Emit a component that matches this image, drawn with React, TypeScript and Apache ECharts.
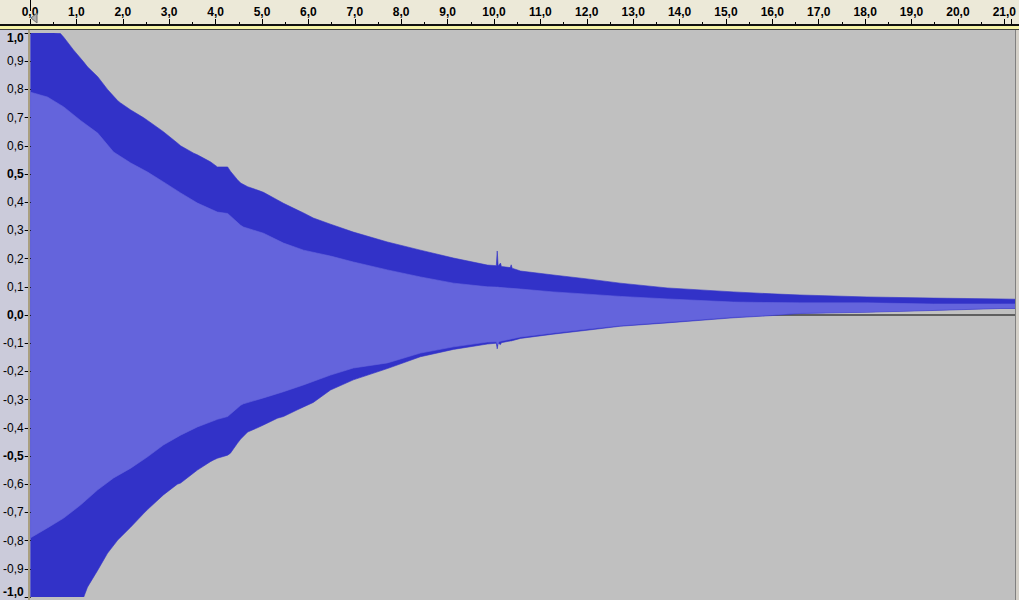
import React, { useEffect, useRef } from "react";
import * as echarts from "echarts";

// Time (s) grid and peak envelope (dark blue)
const peakTime = [0, 0.5, 0.64, 0.71, 0.92, 1.14, 1.22, 1.44, 1.65, 1.72, 1.87, 1.93, 2.15, 2.42, 2.51, 2.85, 3.15, 3.22, 3.5, 3.58, 3.86, 3.93, 4.01, 4.23, 4.29, 4.44, 4.51, 4.66, 4.87, 5.0, 5.3, 5.43, 5.73, 5.86, 6.07, 6.44, 6.93, 7.66, 8.37, 9.08, 9.81, 10.0, 10.02, 10.04, 10.09, 10.11, 10.3, 10.32, 10.34, 10.52, 11.22, 11.95, 12.66, 13.67, 15.09, 15.92, 16.52, 17.96, 19.38, 20.82, 21.14];
const peakHigh = [1.0, 1.0, 0.998, 0.985, 0.94, 0.897, 0.88, 0.845, 0.8, 0.787, 0.76, 0.752, 0.727, 0.7, 0.69, 0.65, 0.61, 0.6, 0.574, 0.568, 0.543, 0.535, 0.525, 0.525, 0.51, 0.48, 0.468, 0.455, 0.443, 0.435, 0.408, 0.396, 0.372, 0.362, 0.344, 0.322, 0.294, 0.259, 0.23, 0.202, 0.177, 0.175, 0.227, 0.174, 0.184, 0.172, 0.168, 0.178, 0.166, 0.156, 0.142, 0.128, 0.113, 0.096, 0.082, 0.075, 0.071, 0.064, 0.06, 0.057, 0.056];
const peakLow = [-1.0, -1.0, -1.0, -1.0, -1.0, -1.0, -0.965, -0.905, -0.845, -0.83, -0.798, -0.788, -0.752, -0.705, -0.69, -0.638, -0.6, -0.596, -0.56, -0.55, -0.52, -0.514, -0.508, -0.497, -0.49, -0.455, -0.44, -0.415, -0.4, -0.39, -0.366, -0.36, -0.336, -0.326, -0.31, -0.266, -0.23, -0.19, -0.148, -0.122, -0.103, -0.1, -0.12, -0.1, -0.105, -0.098, -0.092, -0.092, -0.091, -0.083, -0.068, -0.054, -0.04, -0.028, -0.01, -0.002, 0.005, 0.01, 0.016, 0.023, 0.023];

// RMS envelope (light blue)
const rmsTime = [0, 0.36, 0.71, 1.07, 1.44, 1.78, 2.15, 2.51, 2.85, 3.22, 3.58, 4.01, 4.23, 4.51, 4.57, 5.0, 5.43, 5.86, 6.44, 6.93, 7.66, 8.37, 9.08, 9.81, 10.0, 10.03, 10.06, 10.52, 11.22, 11.95, 12.66, 13.67, 15.09, 15.92, 16.52, 17.96, 19.38, 20.82, 21.14];
const rmsHigh = [0.79, 0.773, 0.738, 0.69, 0.645, 0.578, 0.539, 0.507, 0.472, 0.433, 0.397, 0.365, 0.36, 0.318, 0.312, 0.29, 0.255, 0.23, 0.209, 0.188, 0.16, 0.135, 0.113, 0.1, 0.099, 0.099, 0.098, 0.092, 0.082, 0.074, 0.066, 0.057, 0.046, 0.044, 0.043, 0.043, 0.039, 0.039, 0.039];
const rmsLow = [-0.79, -0.755, -0.72, -0.674, -0.62, -0.578, -0.543, -0.503, -0.461, -0.426, -0.397, -0.37, -0.36, -0.32, -0.315, -0.294, -0.272, -0.248, -0.213, -0.188, -0.17, -0.135, -0.113, -0.096, -0.095, -0.105, -0.094, -0.078, -0.064, -0.05, -0.037, -0.025, -0.007, 0.0, 0.007, 0.011, 0.018, 0.025, 0.025];

const boldYLabels = ["1,0", "0,5", "0,0", "-0,5", "-1,0"];

const FONT = "'Liberation Sans', Arial, sans-serif";
const DARK = "#3232C8";
const LIGHT = "#6464DC";

function fmt(v: number): string {
  if (Math.abs(v) < 1e-9) return "0,0";
  return v.toFixed(1).replace(".", ",");
}

function envelope(name: string, times: number[], hi: number[], lo: number[], color: string, z: number) {
  return {
    type: "custom",
    name,
    z,
    xAxisIndex: 1,
    yAxisIndex: 1,
    silent: true,
    clip: true,
    data: times.map((t, i) => [t, hi[i], lo[i]]),
    encode: { x: 0, y: [1, 2] },
    renderItem: (params: any, api: any) => {
      if (params.dataIndexInside !== 0) return null;
      const upper: number[][] = [];
      const lower: number[][] = [];
      for (let i = 0; i < times.length; i++) {
        upper.push(api.coord([times[i], hi[i]]));
        lower.push(api.coord([times[i], lo[i]]));
      }
      return {
        type: "polygon",
        shape: { points: upper.concat(lower.reverse()) },
        style: { fill: color, stroke: color, lineWidth: 0.6 },
      };
    },
  };
}

export default function App() {
  const ref = useRef<HTMLDivElement>(null);
  useEffect(() => {
    if (!ref.current) return;
    const chart = echarts.init(ref.current, null, { renderer: "svg" });
    const tmax = peakTime[peakTime.length - 1];
    chart.setOption({
      animation: false,
      backgroundColor: "#ECE9D8",
      grid: [
        { left: 30, right: 4, top: 0, height: 24, containLabel: false },
        { left: 30, right: 4, top: 33, bottom: 3, containLabel: false },
      ],
      graphic: {
        elements: [
          { type: "rect", z: -5, shape: { x: 0, y: 24, width: 1019, height: 2 }, style: { fill: "#101010" } },
          { type: "rect", z: -5, shape: { x: 0, y: 26, width: 1019, height: 3 }, style: { fill: "#F6F4A8" } },
          { type: "rect", z: -5, shape: { x: 0, y: 29, width: 1019, height: 1 }, style: { fill: "#404040" } },
          { type: "rect", z: -5, shape: { x: 0, y: 30, width: 28, height: 570 }, style: { fill: "#CBCBDA" } },
          { type: "rect", z: -5, shape: { x: 30, y: 30, width: 985, height: 570 }, style: { fill: "#C0C0C0" } },
          { type: "rect", z: 20, shape: { x: 28, y: 30, width: 2, height: 570 }, style: { fill: "#A99F7F" } },
          { type: "rect", z: 20, shape: { x: 1015, y: 30, width: 1, height: 570 }, style: { fill: "#808080" } },
          { type: "rect", z: 20, shape: { x: 1016, y: 30, width: 3, height: 570 }, style: { fill: "#D4D0C8" } },
          { type: "rect", z: 20, shape: { x: 30, y: 0, width: 1, height: 11 }, style: { fill: "#000" } },
          { type: "polygon", z: 20, shape: { points: [[31, 18], [37, 13], [37, 23]] }, style: { fill: "#B0B0B0", stroke: "#707070", lineWidth: 1 } },
        ],
      },
      xAxis: [
        {
          type: "value",
          gridIndex: 0,
          position: "bottom",
          min: 0,
          max: tmax,
          interval: 1,
          z: 10,
          axisLine: { show: false, onZero: false },
          axisTick: { show: true, inside: true, length: 5, lineStyle: { color: "#000", width: 1 } },
          minorTick: { show: true, splitNumber: 2, length: 2, lineStyle: { color: "#000", width: 1 } },
          splitLine: { show: false },
          minorSplitLine: { show: false },
          axisLabel: {
            inside: true,
            margin: 6,
            showMaxLabel: false,
            color: "#000",
            fontSize: 12,
            fontWeight: "bold",
            fontFamily: FONT,
            formatter: (v: number) => fmt(v),
          },
        },
        {
          type: "value",
          gridIndex: 1,
          min: 0,
          max: tmax,
          interval: 1,
          show: false,
        },
      ],
      yAxis: [
        { type: "value", gridIndex: 0, min: 0, max: 1, show: false },
        {
          type: "value",
          gridIndex: 1,
          min: -1,
          max: 1,
          interval: 0.1,
          z: 10,
          axisLine: { show: false, onZero: false },
          axisTick: { show: true, length: 6, lineStyle: { color: "#000" } },
          splitLine: { show: false },
          axisLabel: {
            margin: 7,
            color: "#000",
            formatter: (v: number) => {
              const s = fmt(v);
              const bold = boldYLabels.indexOf(s) >= 0;
              if (v > 0.99) return `{bt|${s}}`;
              if (v < -0.99) return `{bb|${s}}`;
              return bold ? `{b|${s}}` : `{r|${s}}`;
            },
            rich: {
              r: { fontSize: 12, fontFamily: FONT, color: "#000" },
              b: { fontSize: 12, fontFamily: FONT, fontWeight: "bold", color: "#000" },
              bt: { fontSize: 12, fontFamily: FONT, fontWeight: "bold", color: "#000", padding: [10, 0, 0, 0] },
              bb: { fontSize: 12, fontFamily: FONT, fontWeight: "bold", color: "#000", padding: [0, 0, 10, 0] },
            },
          },
        },
      ],
      series: [
        {
          type: "line",
          name: "zero",
          xAxisIndex: 1,
          yAxisIndex: 1,
          z: 1,
          silent: true,
          symbol: "none",
          data: [[0, 0], [tmax, 0]],
          lineStyle: { color: "#000", width: 1 },
        },
        envelope("peak", peakTime, peakHigh, peakLow, DARK, 2),
        envelope("rms", rmsTime, rmsHigh, rmsLow, LIGHT, 3),
      ],
    });
    return () => chart.dispose();
  }, []);
  return <div ref={ref} style={{ position: "absolute", left: 0, top: 0, width: 1019, height: 600 }} />;
}
